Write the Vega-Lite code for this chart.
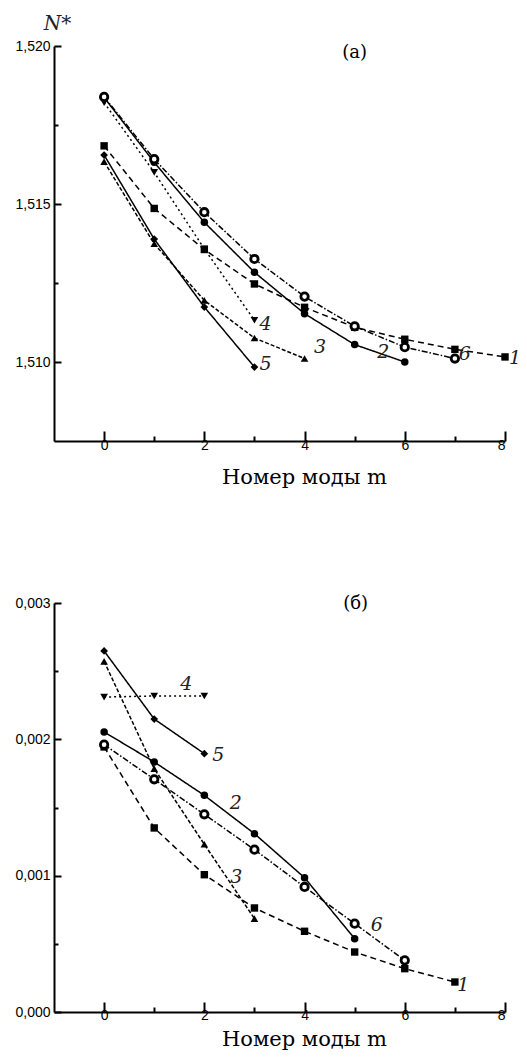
{
  "$schema": "https://vega.github.io/schema/vega-lite/v6.json",
  "padding": {"top": 13, "left": 14, "right": 5, "bottom": 3},
  "spacing": 107,
  "config": {
    "view": {"stroke": null},
    "axis": {
      "domainColor": "black", "domainWidth": 2, "tickColor": "black", "tickWidth": 2,
      "labelFont": "Liberation Sans", "labelFontSize": 14, "labelColor": "black",
      "grid": false, "labelOverlap": false, "ticks": true,
      "titleFont": "DejaVu Serif", "titleFontWeight": "normal", "titleFontSize": 21, "titleColor": "black"
    }
  },
  "datasets": {
    "top": [
      {"s": "1", "m": 0, "v": 1.51684}, {"s": "1", "m": 1, "v": 1.51486}, {"s": "1", "m": 2, "v": 1.51356},
      {"s": "1", "m": 3, "v": 1.51247}, {"s": "1", "m": 4, "v": 1.51173}, {"s": "1", "m": 5, "v": 1.51110},
      {"s": "1", "m": 6, "v": 1.51072}, {"s": "1", "m": 7, "v": 1.51040}, {"s": "1", "m": 8, "v": 1.51016},
      {"s": "2", "m": 0, "v": 1.51837}, {"s": "2", "m": 1, "v": 1.51632}, {"s": "2", "m": 2, "v": 1.51442},
      {"s": "2", "m": 3, "v": 1.51284}, {"s": "2", "m": 4, "v": 1.51153}, {"s": "2", "m": 5, "v": 1.51055},
      {"s": "2", "m": 6, "v": 1.51000},
      {"s": "3", "m": 0, "v": 1.51634}, {"s": "3", "m": 1, "v": 1.51374}, {"s": "3", "m": 2, "v": 1.51195},
      {"s": "3", "m": 3, "v": 1.51076}, {"s": "3", "m": 4, "v": 1.51011},
      {"s": "4", "m": 0, "v": 1.51821}, {"s": "4", "m": 1, "v": 1.51600}, {"s": "4", "m": 2, "v": 1.51358},
      {"s": "4", "m": 3, "v": 1.51132},
      {"s": "5", "m": 0, "v": 1.51655}, {"s": "5", "m": 1, "v": 1.51389}, {"s": "5", "m": 2, "v": 1.51174},
      {"s": "5", "m": 3, "v": 1.50984},
      {"s": "6", "m": 0, "v": 1.51839}, {"s": "6", "m": 1, "v": 1.51642}, {"s": "6", "m": 2, "v": 1.51474},
      {"s": "6", "m": 3, "v": 1.51326}, {"s": "6", "m": 4, "v": 1.51207}, {"s": "6", "m": 5, "v": 1.51113},
      {"s": "6", "m": 6, "v": 1.51047}, {"s": "6", "m": 7, "v": 1.51011}
    ],
    "topLabels": [
      {"t": "1", "m": 8.2, "v": 1.51013}, {"t": "2", "m": 5.57, "v": 1.51032}, {"t": "3", "m": 4.31, "v": 1.51047},
      {"t": "4", "m": 3.22, "v": 1.51121}, {"t": "5", "m": 3.22, "v": 1.50995}, {"t": "6", "m": 7.2, "v": 1.51026}
    ],
    "topPanel": [{"t": "(a)", "m": 5.0, "v": 1.51979}],
    "topTitle": [{"t": "N*", "m": -0.93, "v": 1.5207}],
    "bottom": [
      {"s": "1", "m": 0, "v": 0.001944}, {"s": "1", "m": 1, "v": 0.00135}, {"s": "1", "m": 2, "v": 0.001007},
      {"s": "1", "m": 3, "v": 0.000763}, {"s": "1", "m": 4, "v": 0.000592}, {"s": "1", "m": 5, "v": 0.00044},
      {"s": "1", "m": 6, "v": 0.000318}, {"s": "1", "m": 7, "v": 0.00022},
      {"s": "2", "m": 0, "v": 0.002054}, {"s": "2", "m": 1, "v": 0.001834}, {"s": "2", "m": 2, "v": 0.001589},
      {"s": "2", "m": 3, "v": 0.001308}, {"s": "2", "m": 4, "v": 0.000985}, {"s": "2", "m": 5, "v": 0.000538},
      {"s": "3", "m": 0, "v": 0.002572}, {"s": "3", "m": 1, "v": 0.001785}, {"s": "3", "m": 2, "v": 0.00123},
      {"s": "3", "m": 3, "v": 0.000685},
      {"s": "4", "m": 0, "v": 0.00231}, {"s": "4", "m": 1, "v": 0.002318}, {"s": "4", "m": 2, "v": 0.002318},
      {"s": "5", "m": 0, "v": 0.002648}, {"s": "5", "m": 1, "v": 0.002149}, {"s": "5", "m": 2, "v": 0.001895},
      {"s": "6", "m": 0, "v": 0.001961}, {"s": "6", "m": 1, "v": 0.001707}, {"s": "6", "m": 2, "v": 0.00145},
      {"s": "6", "m": 3, "v": 0.001191}, {"s": "6", "m": 4, "v": 0.000917}, {"s": "6", "m": 5, "v": 0.000648},
      {"s": "6", "m": 6, "v": 0.000379}
    ],
    "bottomLabels": [
      {"t": "1", "m": 7.17, "v": 0.000196}, {"t": "2", "m": 2.63, "v": 0.001533}, {"t": "3", "m": 2.64, "v": 0.00099},
      {"t": "4", "m": 1.64, "v": 0.002408}, {"t": "5", "m": 2.28, "v": 0.001883}, {"t": "6", "m": 5.44, "v": 0.000636}
    ],
    "bottomPanel": [{"t": "(б)", "m": 5.02, "v": 0.002995}]
  },
  "vconcat": [
    {
      "width": 451, "height": 395,
      "encoding": {
        "x": {"field": "m", "type": "quantitative", "scale": {"domain": [-1, 8], "nice": false, "zero": false},
          "axis": {"title": "Номер моды m", "values": [0, 1, 2, 3, 4, 5, 6, 7, 8], "labelExpr": "datum.value % 2 == 0 ? datum.label : ''",
            "tickSize": {"condition": {"test": "datum.value % 2 == 0", "value": -10}, "value": -5},
            "labelPadding": 7, "titleX": 250, "titlePadding": 9}},
        "y": {"field": "v", "type": "quantitative", "scale": {"domain": [1.5075, 1.52], "nice": false, "zero": false},
          "axis": {"title": null, "values": [1.51, 1.5125, 1.515, 1.5175, 1.52],
            "labelExpr": "abs(datum.value*200 - round(datum.value*200)) < 0.01 ? replace(format(datum.value, '.3f'), '.', ',') : ''",
            "tickSize": {"condition": {"test": "abs(datum.value*200 - round(datum.value*200)) < 0.01", "value": -7}, "value": -4},
            "labelPadding": 11}}
      },
      "layer": [
        {"data": {"name": "top"},
          "mark": {"type": "line", "color": "black", "strokeWidth": 1.5},
          "encoding": {"detail": {"field": "s"},
            "strokeDash": {"field": "s", "type": "nominal", "legend": null,
              "scale": {"domain": ["1", "2", "3", "4", "5", "6"], "range": [[6, 4], [1, 0], [4, 2], [2, 3], [1, 0], [6, 2, 1.5, 2]]}}}},
        {"data": {"name": "top"}, "transform": [{"filter": "datum.s != '6'"}],
          "mark": {"type": "point", "filled": true, "color": "black", "opacity": 1},
          "encoding": {"shape": {"field": "s", "type": "nominal", "legend": null,
            "scale": {"domain": ["1", "2", "3", "4", "5"], "range": ["square", "circle", "triangle-up", "triangle-down", "diamond"]}},
            "size": {"field": "s", "type": "nominal", "legend": null,
            "scale": {"domain": ["1", "2", "3", "4", "5"], "range": [55, 60, 70, 70, 80]}}}},
        {"data": {"name": "top"}, "transform": [{"filter": "datum.s == '6'"}],
          "mark": {"type": "point", "shape": "circle", "filled": false, "fill": "white", "stroke": "black", "strokeWidth": 2.8, "size": 55, "opacity": 1}},
        {"data": {"name": "topLabels"},
          "mark": {"type": "text", "font": "DejaVu Serif", "fontStyle": "italic", "fontSize": 19, "color": "#222"},
          "encoding": {"text": {"field": "t"}}},
        {"data": {"name": "topPanel"},
          "mark": {"type": "text", "font": "DejaVu Serif", "fontSize": 18, "color": "black"},
          "encoding": {"text": {"field": "t"}}},
        {"data": {"name": "topTitle"},
          "mark": {"type": "text", "font": "DejaVu Serif", "fontStyle": "italic", "fontSize": 20, "color": "#222"},
          "encoding": {"text": {"field": "t"}}}
      ]
    },
    {
      "width": 451, "height": 409,
      "encoding": {
        "x": {"field": "m", "type": "quantitative", "scale": {"domain": [-1, 8], "nice": false, "zero": false},
          "axis": {"title": "Номер моды m", "values": [0, 1, 2, 3, 4, 5, 6, 7, 8], "labelExpr": "datum.value % 2 == 0 ? datum.label : ''",
            "tickSize": {"condition": {"test": "datum.value % 2 == 0", "value": -10}, "value": -5},
            "labelPadding": 6, "titleX": 250, "titlePadding": 1}},
        "y": {"field": "v", "type": "quantitative", "scale": {"domain": [0, 0.003], "nice": false, "zero": false},
          "axis": {"title": null, "values": [0, 0.0005, 0.001, 0.0015, 0.002, 0.0025, 0.003],
            "labelExpr": "abs(datum.value*1000 - round(datum.value*1000)) < 0.01 ? replace(format(datum.value, '.3f'), '.', ',') : ''",
            "tickSize": {"condition": {"test": "abs(datum.value*1000 - round(datum.value*1000)) < 0.01", "value": -7}, "value": -4},
            "labelPadding": 11}}
      },
      "layer": [
        {"data": {"name": "bottom"},
          "mark": {"type": "line", "color": "black", "strokeWidth": 1.5},
          "encoding": {"detail": {"field": "s"},
            "strokeDash": {"field": "s", "type": "nominal", "legend": null,
              "scale": {"domain": ["1", "2", "3", "4", "5", "6"], "range": [[6, 4], [1, 0], [4, 2], [2, 3], [1, 0], [6, 2, 1.5, 2]]}}}},
        {"data": {"name": "bottom"}, "transform": [{"filter": "datum.s != '6'"}],
          "mark": {"type": "point", "filled": true, "color": "black", "opacity": 1},
          "encoding": {"shape": {"field": "s", "type": "nominal", "legend": null,
            "scale": {"domain": ["1", "2", "3", "4", "5"], "range": ["square", "circle", "triangle-up", "triangle-down", "diamond"]}},
            "size": {"field": "s", "type": "nominal", "legend": null,
            "scale": {"domain": ["1", "2", "3", "4", "5"], "range": [55, 60, 70, 70, 80]}}}},
        {"data": {"name": "bottom"}, "transform": [{"filter": "datum.s == '6'"}],
          "mark": {"type": "point", "shape": "circle", "filled": false, "fill": "white", "stroke": "black", "strokeWidth": 2.8, "size": 55, "opacity": 1}},
        {"data": {"name": "bottomLabels"},
          "mark": {"type": "text", "font": "DejaVu Serif", "fontStyle": "italic", "fontSize": 19, "color": "#222"},
          "encoding": {"text": {"field": "t"}}},
        {"data": {"name": "bottomPanel"},
          "mark": {"type": "text", "font": "DejaVu Serif", "fontSize": 18, "color": "black"},
          "encoding": {"text": {"field": "t"}}}
      ]
    }
  ]
}
